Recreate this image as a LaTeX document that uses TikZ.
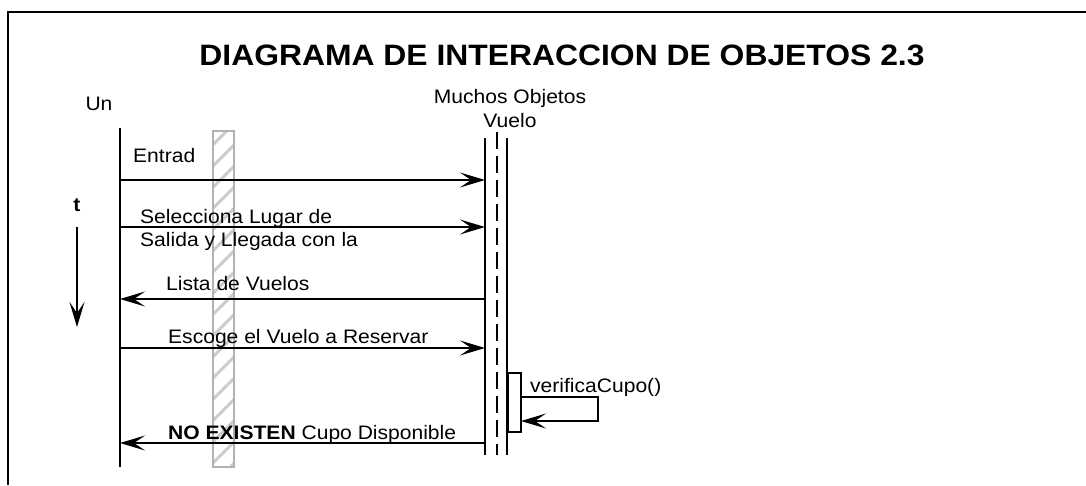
\documentclass[tikz,border=0pt]{standalone}
\usepackage{fontspec}
\setmainfont{Liberation Sans}[FakeStretch=1.08]
\usetikzlibrary{arrows.meta,patterns.meta}

\begin{document}
\begin{tikzpicture}[x=1pt, y=-1pt,
    lifeline/.style ={line width=2pt},
    message/.style ={line width=2pt, -{Stealth[length=25pt, width=15pt, inset=11pt]}},
    msgtext/.style ={anchor=base west, inner sep=0pt, align=left, font=\fontsize{19.5}{23}\selectfont},
    objname/.style ={anchor=base, inner sep=0pt, align=center, font=\fontsize{19.5}{24}\selectfont}]
   \useasboundingbox (0,0) rectangle (1086,485);
   \coordinate (marcoA) at (1086,12);
   \coordinate (marcoB) at (8,485);
   \draw[line width=2pt] (marcoA) -| (marcoB);
   \node[anchor=base, inner sep=0pt, font=\bfseries\fontsize{29.5}{34}\selectfont] (titulo) at (562,65) {DIAGRAMA DE INTERACCION DE OBJETOS 2.3};

   % barra rayada
   \node[draw=black!30, line width=2pt, inner sep=0pt, minimum width=21pt, minimum height=336pt,
     pattern={Lines[angle=45, distance=15pt, line width=3pt]}, pattern color=black!20] (barra) at (223.5,299) {};

   % objetos
   \node[objname] (un) at (99,110) {Un};
   \coordinate (unTop) at (120,128);
   \coordinate (unEnd) at (120,467);
   \draw[lifeline] (unTop) -- (unEnd);
   \node[objname] (vuelo) at (510,127) {Muchos Objetos\\Vuelo};
   \coordinate (vueloA) at (485,138);
   \coordinate (vueloAEnd) at (485,455);
   \coordinate (vueloB) at (497,132);
   \coordinate (vueloBEnd) at (497,455);
   \coordinate (vueloC) at (507,138);
   \coordinate (vueloCEnd) at (507,455);
   \draw[lifeline] (vueloA) -- (vueloAEnd);
   \draw[line width=2.5pt, dash pattern=on 17pt off 7pt] (vueloB) -- (vueloBEnd);
   \draw[lifeline] (vueloC) -- (vueloCEnd);

   % tiempo
   \node[objname, font=\bfseries\fontsize{19.5}{24}\selectfont] (t) at (77,211) {t};
   \coordinate (tA) at (77,227);
   \coordinate (tB) at (77,327);
   \draw[message] (tA) -- (tB);

   % mensajes
   \node[msgtext] (entrad) at (133,162) {Entrad};
   \coordinate (m1a) at (120,180);
   \coordinate (m1b) at (485,180);
   \draw[message] (m1a) -- (m1b);
   \node[msgtext] (selecciona) at (140,246) {Selecciona Lugar de\\Salida y Llegada con la};
   \coordinate (m2a) at (120,227);
   \coordinate (m2b) at (485,227);
   \draw[message] (m2a) -- (m2b);
   \node[msgtext] (lista) at (166,290) {Lista de Vuelos};
   \coordinate (m3a) at (485,299);
   \coordinate (m3b) at (120,299);
   \draw[message] (m3a) -- (m3b);
   \node[msgtext] (escoge) at (168,343) {Escoge el Vuelo a Reservar};
   \coordinate (m4a) at (120,348);
   \coordinate (m4b) at (485,348);
   \draw[message] (m4a) -- (m4b);

   % verificaCupo
   \node[draw, line width=2pt, fill=white, inner sep=0pt, minimum width=13pt, minimum height=59pt] (caja) at (514.5,402.5) {};
   \node[msgtext] (verifica) at (530,392) {verificaCupo()};
   \coordinate (s1) at (521,397);
   \coordinate (s2) at (598,421);
   \coordinate (s3) at (521,421);
   \draw[message] (s1) -| (s2) -- (s3);

   \node[msgtext] (noexisten) at (168,439) {\bfseries NO EXISTEN \mdseries Cupo Disponible};
   \coordinate (m5a) at (485,443);
   \coordinate (m5b) at (120,443);
   \draw[message] (m5a) -- (m5b);
 \end{tikzpicture}
\end{document}
